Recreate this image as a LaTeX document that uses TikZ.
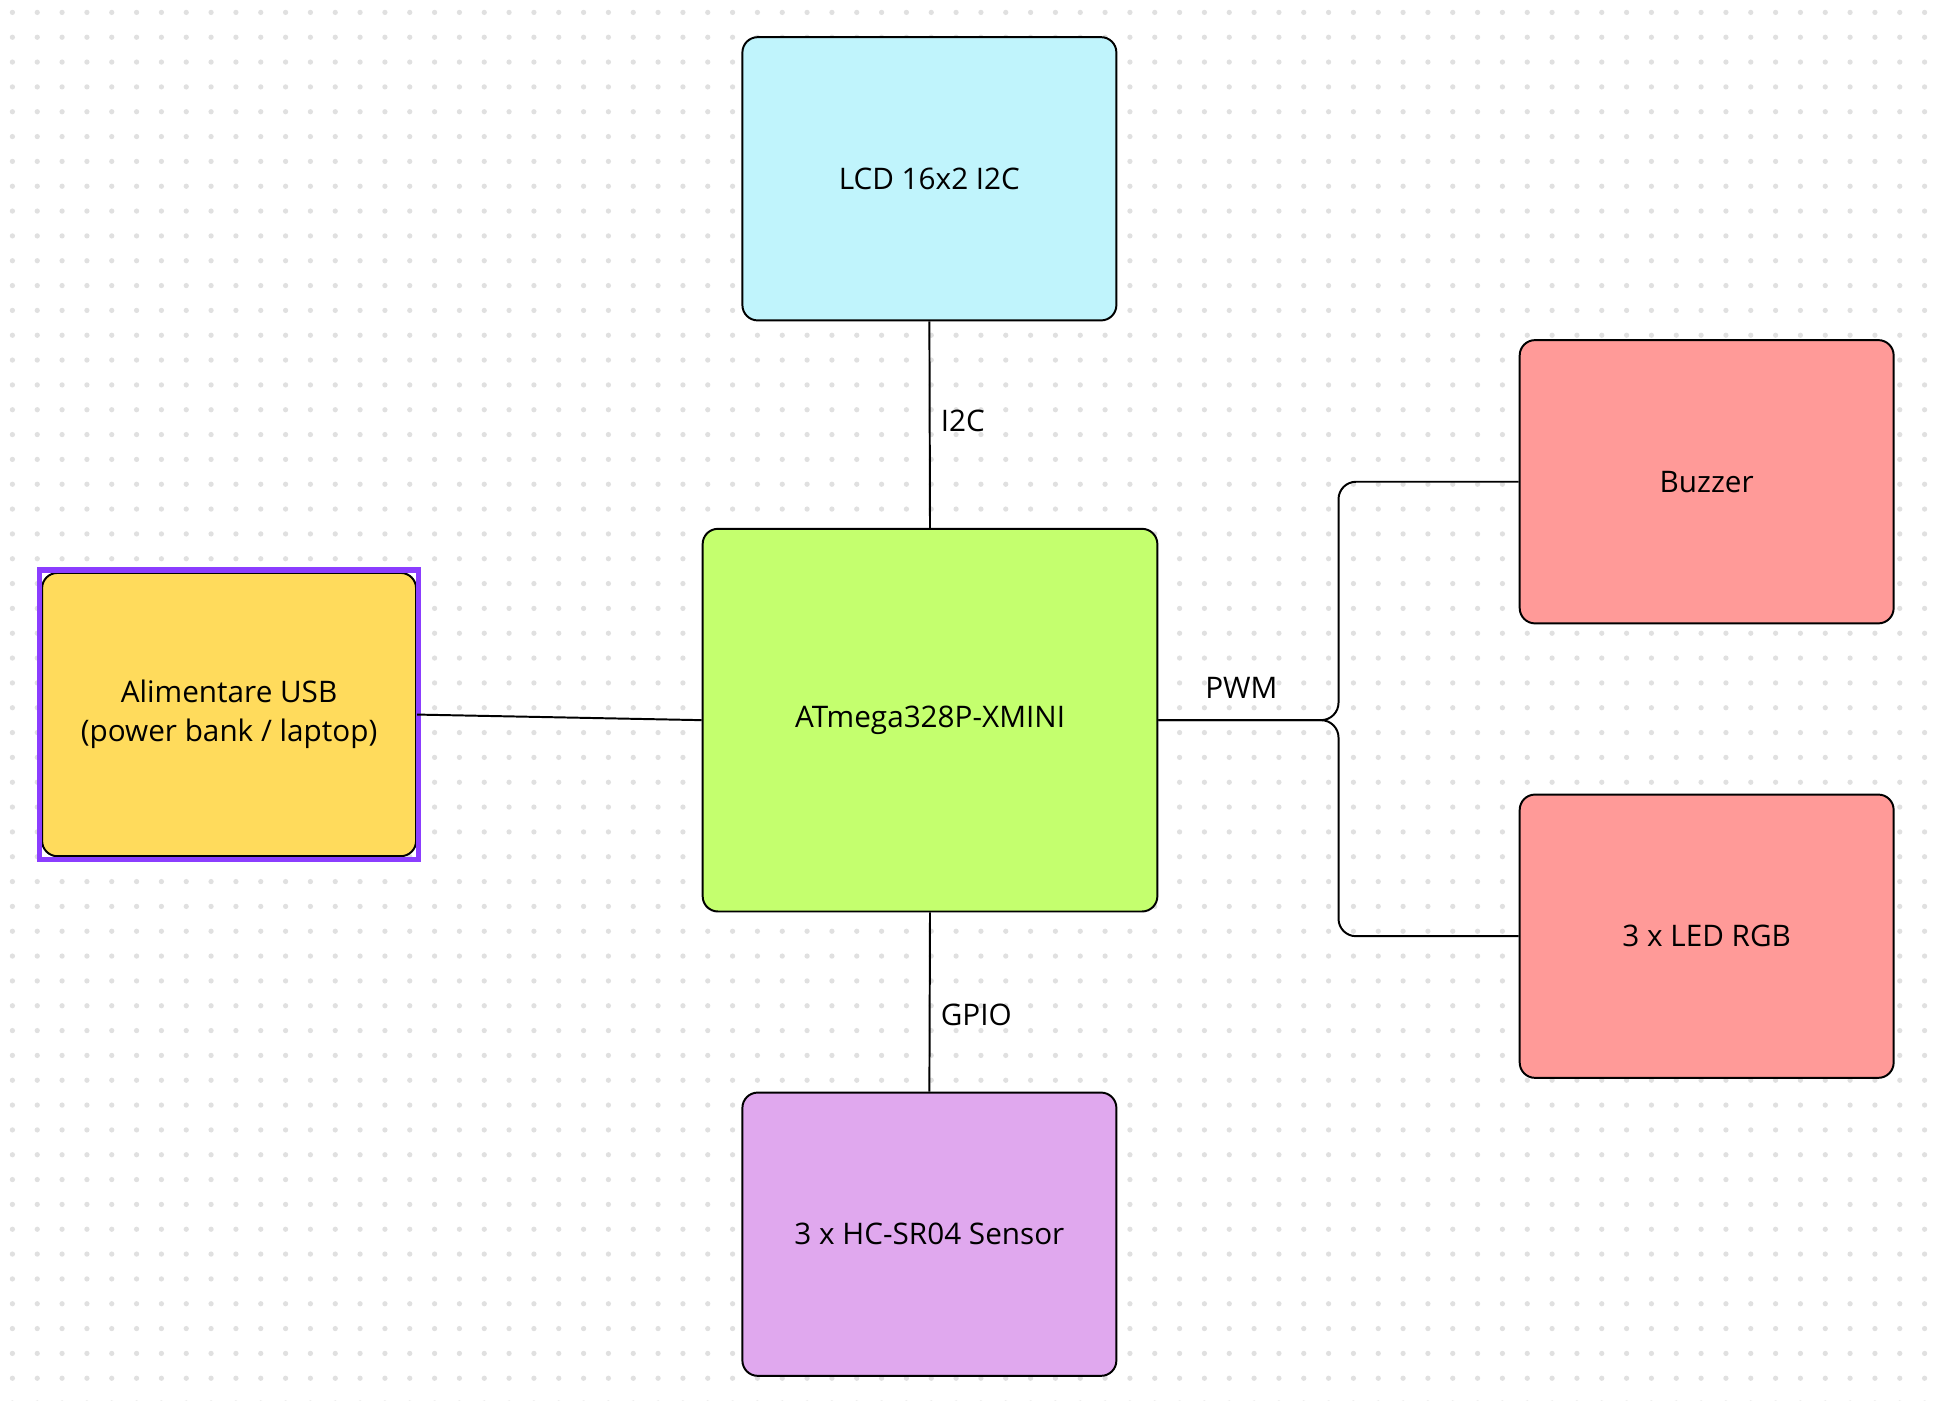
\documentclass[tikz,border=0pt]{standalone}
\usepackage{fontspec}
\setmainfont{Open Sans}
\begin{document}
\begin{tikzpicture}[x=0.01cm,y=-0.01cm,
  box/.style={draw=black,line width=0.45pt,rounded corners=3.5pt,minimum width=3.01cm,minimum height=2.28cm,inner sep=0pt,align=center,font=\fontsize{6.8}{9}\selectfont},
  wire/.style={line width=0.45pt},
  lbl/.style={font=\fontsize{6.8}{9}\selectfont,anchor=west,inner sep=0pt}]
\useasboundingbox (0,0) rectangle (1560,1128);
\fill[white] (0,0) rectangle (1560,1128);
\foreach \i in {0,...,77}{\foreach \j in {0,...,56}{\fill[black!12] (\i*20+10,\j*20+10) circle (0.6pt);}}
\definecolor{lcd}{HTML}{C0F4FC}
\definecolor{mcu}{HTML}{C4FF6E}
\definecolor{usb}{HTML}{FFDB5C}
\definecolor{red}{HTML}{FF9A98}
\definecolor{sen}{HTML}{E0A8EE}
\definecolor{sel}{HTML}{8B3DFF}
\node[box,fill=lcd] (lcd) at (748.5,144) {LCD 16x2 I2C};
\node[box,fill=mcu,minimum width=3.66cm,minimum height=3.08cm] (mcu) at (749,580) {ATmega328P-XMINI};
\node[box,fill=usb] (usb) at (184.5,575.5) {Alimentare USB\\(power bank / laptop)};
\draw[sel,line width=1.2pt] (32,459) rectangle (337,692);
\node[box,fill=red] (buz) at (1374.5,388) {Buzzer};
\node[box,fill=red] (led) at (1374.5,754) {3 x LED RGB};
\node[box,fill=sen] (sen) at (748.5,994) {3 x HC-SR04 Sensor};
\draw[wire] (lcd.south) -- (mcu.north) node[lbl,pos=0.5] at (757,339) {};
\node[lbl] (li2c) at (757,339) {I2C};
\draw[wire] (mcu.south) -- (sen.north);
\node[lbl] (lgpio) at (757,817) {GPIO};
\draw[wire] (usb.east) -- (mcu.west);
\coordinate (br) at (1078,580);
\draw[wire,rounded corners=4pt] (mcu.east) -- (br) |- (buz.west);
\draw[wire,rounded corners=4pt] (mcu.east) -- (br) |- (led.west);
\node[lbl] (lpwm) at (970,554) {PWM};
\end{tikzpicture}
\end{document}
